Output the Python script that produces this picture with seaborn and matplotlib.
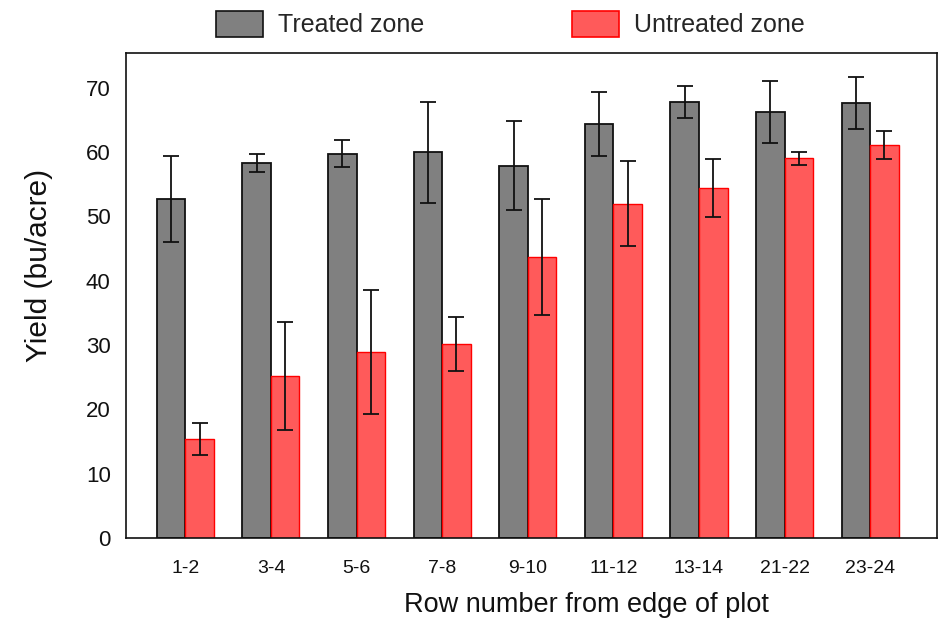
import matplotlib
matplotlib.use("Agg")
import matplotlib.pyplot as plt
import seaborn as sns
import pandas as pd
from matplotlib.patches import Patch

# Row groups counted from the plot edge
rows = ["1-2", "3-4", "5-6", "7-8", "9-10", "11-12", "13-14", "21-22", "23-24"]
zones = ["Treated zone", "Untreated zone"]

# Mean yield (bu/acre) and error half-widths per zone
treated_mean = [52.7, 58.3, 59.7, 60.0, 57.9, 64.4, 67.8, 66.2, 67.6]
treated_err = [6.7, 1.45, 2.1, 7.85, 6.9, 5.0, 2.5, 4.8, 4.05]
untreated_mean = [15.4, 25.2, 28.9, 30.2, 43.7, 52.0, 54.4, 59.0, 61.1]
untreated_err = [2.5, 8.45, 9.7, 4.2, 9.05, 6.6, 4.45, 1.0, 2.15]

df = pd.DataFrame({
    "row": rows * 2,
    "zone": [zones[0]] * len(rows) + [zones[1]] * len(rows),
    "yield": treated_mean + untreated_mean,
    "err": treated_err + untreated_err,
})

sns.set_style("white")
plt.rcParams["font.family"] = ["Liberation Sans", "DejaVu Sans"]

fill = {zones[0]: "#808080", zones[1]: "#ff5a5a"}
edge = {zones[0]: "#111111", zones[1]: "#ff0000"}

fig = plt.figure(figsize=(9.49, 6.27), dpi=100)
ax = fig.add_axes([126 / 949, 89 / 627, 811 / 949, 485 / 627])

sns.barplot(data=df, x="row", y="yield", hue="zone", order=rows,
            hue_order=zones, palette=fill, saturation=1, width=0.666,
            gap=0, errorbar=None, legend=False, ax=ax)

# Outline colours per zone, then error bars centred on every drawn bar
bars = ax.patches
n = len(rows)
for k, zone in enumerate(zones):
    sub = df[df["zone"] == zone].reset_index(drop=True)
    for i, bar in enumerate(bars[k * n:(k + 1) * n]):
        bar.set_edgecolor(edge[zone])
        bar.set_linewidth(1.3 if k == 0 else 1.0)
        xc = bar.get_x() + bar.get_width() / 2
        ax.errorbar(xc, sub.loc[i, "yield"], yerr=sub.loc[i, "err"],
                    fmt="none", ecolor="#111111", elinewidth=1.3,
                    capsize=5.5, capthick=1.3, zorder=5)

ax.set_xlim(-0.693, 8.78)
ax.set_ylim(0, 75.4)
ax.set_yticks(range(0, 80, 10))

for side in ["left", "right", "top", "bottom"]:
    ax.spines[side].set_visible(True)
    ax.spines[side].set_color("#111111")
    ax.spines[side].set_linewidth(1.2)

ax.tick_params(axis="y", direction="in", length=7, width=1.1,
               labelsize=16, pad=11, colors="#111111")
ax.tick_params(axis="x", length=0, labelsize=14, pad=16, colors="#111111")

ax.set_xlabel("Row number from edge of plot", fontsize=19.5, color="#111111")
ax.set_ylabel("Yield (bu/acre)", fontsize=21.5, color="#111111")
ax.xaxis.set_label_coords((586 - 126) / 811, -0.111)
ax.yaxis.set_label_coords(-0.09, (538 - 265) / 485)

handles = [Patch(facecolor=fill[z], edgecolor=edge[z], linewidth=1.2)
           for z in zones]
fig.legend(handles, zones, loc="center left",
           bbox_to_anchor=(216 / 949, 1 - 24 / 627), ncol=2, frameon=False,
           fontsize=18, handlelength=1.88, handleheight=1.2,
           handletextpad=0.6, columnspacing=5.9, borderpad=0,
           borderaxespad=0)

fig.savefig("out.png", dpi=100)
